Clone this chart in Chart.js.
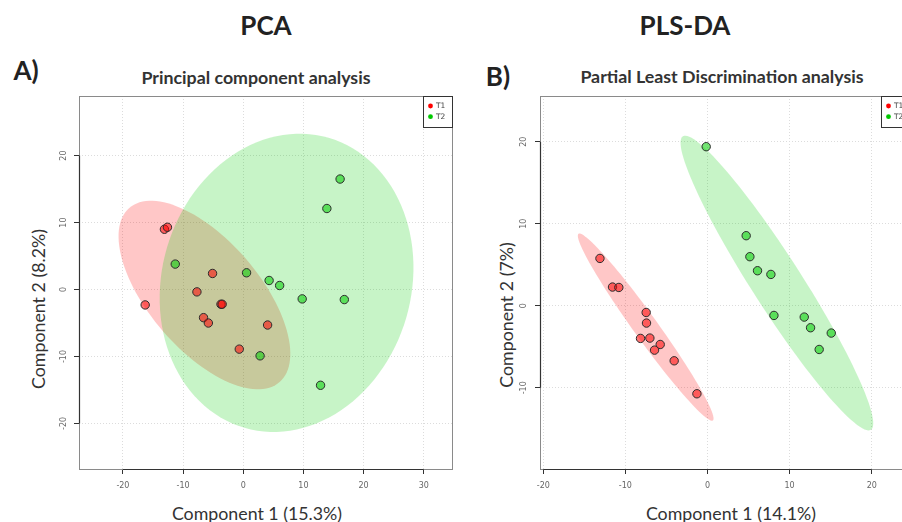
<!DOCTYPE html>
<html>
<head>
<meta charset="utf-8">
<script src="https://cdn.jsdelivr.net/npm/chart.js@4.4.1/dist/chart.umd.min.js"></script>
<style>
  html, body { margin: 0; padding: 0; background: #fff; overflow: hidden; }
  body { width: 902px; height: 522px; position: relative; font-family: Lato, "Open Sans", sans-serif; color: #222; }
  .painel { position: absolute; top: 0; height: 522px; }
  .texto { position: absolute; white-space: nowrap; transform: translate(-50%, -50%); }
  .vertical { transform: translate(-50%, -50%) rotate(-90deg); }
</style>
</head>
<body>

<div class="texto" style="left:266px; top:25px; font-size:26px; font-weight:bold;">PCA</div>
<div class="texto" style="left:685px; top:25px; font-size:26px; font-weight:bold;">PLS-DA</div>
<div class="texto" style="left:26px; top:70px; font-size:26px; font-weight:bold;">A)</div>
<div class="texto" style="left:498px; top:76px; font-size:26px; font-weight:bold;">B)</div>
<div class="texto" style="left:256px; top:77px; font-size:17.8px; font-weight:bold; color:#333;">Principal component analysis</div>
<div class="texto" style="left:722px; top:76px; font-size:17.8px; font-weight:bold; color:#333;">Partial Least Discrimination analysis</div>
<div class="texto" style="left:257px; top:513px; font-size:17.8px; color:#333;">Component 1 (15.3%)</div>
<div class="texto" style="left:731px; top:513px; font-size:17.8px; color:#333;">Component 1 (14.1%)</div>
<div class="texto vertical" style="left:38px; top:309px; font-size:17.8px; color:#333;">Component 2 (8.2%)</div>
<div class="texto vertical" style="left:506px; top:315px; font-size:17.8px; color:#333;">Component 2 (7%)</div>

<div class="painel" style="left:0; width:460px;"><canvas id="grafico-pca"></canvas></div>
<div class="painel" style="left:460px; width:460px;"><canvas id="grafico-plsda"></canvas></div>

<script>
// group names
const groups = ["T1", "T2"];

// PCA scores
const pcaT1X = [-13.1, -12.6, -16.3, -5.1, -7.7, -3.7, -3.5, -6.6, -5.8, 4.05, -0.66];
const pcaT1Y = [9.0, 9.3, -2.3, 2.4, -0.35, -2.2, -2.2, -4.2, -5.0, -5.3, -8.9];
const pcaT2X = [16.1, 13.9, -11.3, 0.55, 4.3, 6.05, 9.8, 16.8, 2.8, 12.85];
const pcaT2Y = [16.5, 12.1, 3.8, 2.5, 1.35, 0.6, -1.4, -1.5, -9.9, -14.3];

// PLS-DA scores
const plsT1X = [-13.1, -11.57, -10.8, -7.47, -7.43, -8.16, -7.02, -5.76, -6.45, -4.06, -1.29];
const plsT1Y = [5.77, 2.28, 2.23, -0.82, -2.11, -3.98, -3.94, -4.72, -5.41, -6.71, -10.73];
const plsT2X = [-0.16, 4.71, 5.16, 6.09, 7.72, 8.09, 11.78, 12.55, 15.07, 13.6];
const plsT2Y = [19.39, 8.54, 5.98, 4.27, 3.82, -1.18, -1.38, -2.68, -3.33, -5.33];

// confidence ellipses: centre x, centre y, semi-axis A (x, y), semi-axis B (x, y)
const pcaEllipseT1 = [-6.45, -0.82, 12.5, -13.0, -6.9, -5.4];
const pcaEllipseT2 = [7.2, 1.0, 7.0, 21.65, 19.9, -5.2];
const plsEllipseT1 = [-7.53, -2.6, 8.18, -11.38, 1.19, 0.85];
const plsEllipseT2 = [8.45, 2.77, 11.45, -17.89, 2.56, 1.65];

// ticks and axis ranges
const pcaTicksX = [-20, -10, 0, 10, 20, 30];
const pcaTicksY = [-20, -10, 0, 10, 20];
const plsTicksX = [-20, -10, 0, 10, 20];
const plsTicksY = [-10, 0, 10, 20];
const pcaRangeX = [-27.3, 34.7];
const pcaRangeY = [-26.8, 28.9];
const plsRangeX = [-20.4, 24.66];
const plsRangeY = [-19.9, 25.57];

const pointColors = ["rgba(255, 0, 0, 0.55)", "rgba(0, 205, 0, 0.55)"];
const ellipseColors = ["rgba(255, 0, 0, 0.22)", "rgba(0, 205, 0, 0.22)"];
const legendColors = ["#ff0000", "#00c800"];

function toPoints(xs, ys) {
  return xs.map((x, i) => ({ x: x, y: ys[i] }));
}

// ellipses under the points, then the R-style box and axis lines
const ellipsePlugin = {
  id: "ellipses",
  beforeDatasetsDraw(chart, args, opts) {
    const ctx = chart.ctx;
    const sx = chart.scales.x;
    const sy = chart.scales.y;
    const area = chart.chartArea;

    ctx.save();
    ctx.beginPath();
    ctx.rect(area.left, area.top, area.width, area.height);
    ctx.clip();
    // red first, green drawn over it (olive overlap)
    [0, 1].forEach(g => {
      const e = opts.ellipses[g];
      ctx.beginPath();
      for (let k = 0; k <= 120; k++) {
        const t = k / 120 * Math.PI * 2;
        const x = e[0] + e[2] * Math.cos(t) + e[4] * Math.sin(t);
        const y = e[1] + e[3] * Math.cos(t) + e[5] * Math.sin(t);
        const px = sx.getPixelForValue(x);
        const py = sy.getPixelForValue(y);
        if (k == 0) ctx.moveTo(px, py); else ctx.lineTo(px, py);
      }
      ctx.closePath();
      ctx.fillStyle = ellipseColors[g];
      ctx.fill();
    });
    ctx.restore();

    ctx.save();
    ctx.strokeStyle = "#8a8a8a";
    ctx.lineWidth = 1;
    ctx.strokeRect(Math.round(area.left) + 0.5, Math.round(area.top) + 0.5, Math.round(area.width), Math.round(area.height));

    // dark axis line from first to last tick
    ctx.strokeStyle = "#333";
    ctx.lineWidth = 1.2;
    const tx = opts.ticksX, ty = opts.ticksY;
    ctx.beginPath();
    ctx.moveTo(sx.getPixelForValue(tx[0]), Math.round(area.bottom) + 0.5);
    ctx.lineTo(sx.getPixelForValue(tx[tx.length - 1]), Math.round(area.bottom) + 0.5);
    ctx.moveTo(Math.round(area.left) + 0.5, sy.getPixelForValue(ty[0]));
    ctx.lineTo(Math.round(area.left) + 0.5, sy.getPixelForValue(ty[ty.length - 1]));
    ctx.stroke();
    ctx.restore();
  },
  afterDatasetsDraw(chart) {
    // legend box in the top right corner
    const ctx = chart.ctx;
    const area = chart.chartArea;
    const w = 29, h = 31;
    const left = area.right - w;
    const top = area.top;

    ctx.save();
    ctx.fillStyle = "#fff";
    ctx.fillRect(left, top, w, h);
    ctx.strokeStyle = "#333";
    ctx.lineWidth = 1;
    ctx.strokeRect(Math.round(left) + 0.5, Math.round(top) + 0.5, w, h);
    ctx.font = "7.5px 'DejaVu Sans'";
    ctx.textBaseline = "middle";
    chart.data.datasets.forEach((ds, i) => {
      const y = top + 10 + i * 10.7;
      ctx.beginPath();
      ctx.arc(left + 7.5, y, 2.4, 0, Math.PI * 2);
      ctx.fillStyle = legendColors[i];
      ctx.fill();
      ctx.fillStyle = "#444";
      ctx.fillText(ds.label, left + 13, y);
    });
    ctx.restore();
  }
};

function buildChart(canvasId, series, ellipses, ticksX, ticksY, rangeX, rangeY, axisWidth, rightPad, labelPadY) {
  const axisTicks = values => scale => { scale.ticks = values.map(v => ({ value: v })); };

  return new Chart(document.getElementById(canvasId).getContext("2d"), {
    type: "scatter",
    data: {
      datasets: series.map((s, i) => ({
        label: groups[i],
        data: toPoints(s[0], s[1]),
        backgroundColor: pointColors[i],
        borderColor: "#2b2b2b",
        borderWidth: 1,
        pointRadius: 4.2,
        pointHoverRadius: 4.2
      }))
    },
    options: {
      responsive: true,
      maintainAspectRatio: false,
      animation: false,
      layout: { padding: { top: 96, right: rightPad, bottom: 0, left: 0 } },
      scales: {
        x: {
          type: "linear",
          min: rangeX[0],
          max: rangeX[1],
          afterBuildTicks: axisTicks(ticksX),
          afterFit: scale => { scale.height = 53; },
          border: { display: false, dash: [1, 2] },
          grid: { color: "#dcdcdc", tickColor: "#333", tickLength: 5, tickBorderDash: [] },
          ticks: { color: "#666", font: { size: 8, family: "'DejaVu Sans'" }, padding: 7, maxRotation: 0 }
        },
        y: {
          type: "linear",
          min: rangeY[0],
          max: rangeY[1],
          afterBuildTicks: axisTicks(ticksY),
          afterFit: scale => { scale.width = axisWidth; },
          border: { display: false, dash: [1, 2] },
          grid: { color: "#dcdcdc", tickColor: "#333", tickLength: 5, tickBorderDash: [] },
          ticks: { color: "#666", font: { size: 8, family: "'DejaVu Sans'" }, padding: labelPadY, minRotation: 90, maxRotation: 90, crossAlign: "center" }
        }
      },
      plugins: {
        legend: { display: false },
        tooltip: { enabled: false },
        ellipses: { ellipses: ellipses, ticksX: ticksX, ticksY: ticksY }
      }
    },
    plugins: [ellipsePlugin]
  });
}

buildChart("grafico-pca",
  [[pcaT1X, pcaT1Y], [pcaT2X, pcaT2Y]],
  [pcaEllipseT1, pcaEllipseT2],
  pcaTicksX, pcaTicksY, pcaRangeX, pcaRangeY, 79, 8, 3.5);

buildChart("grafico-plsda",
  [[plsT1X, plsT1Y], [plsT2X, plsT2Y]],
  [plsEllipseT1, plsEllipseT2],
  plsTicksX, plsTicksY, plsRangeX, plsRangeY, 80, 10, 4.5);
</script>
</body>
</html>
